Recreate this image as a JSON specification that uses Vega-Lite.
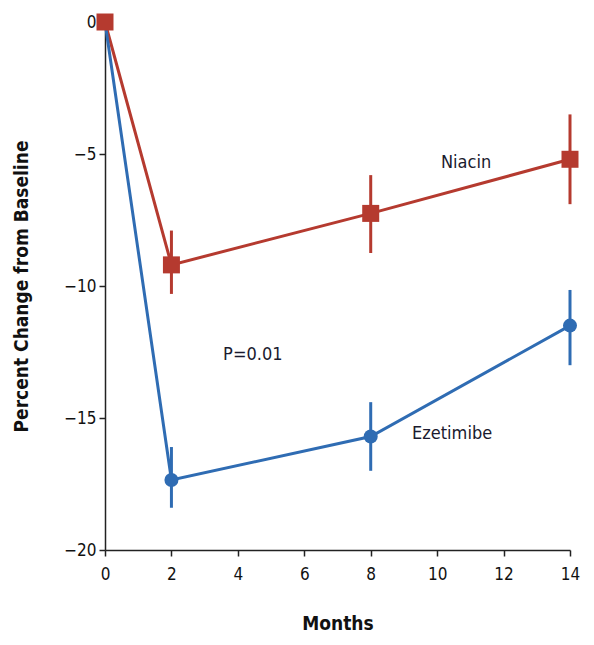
{
  "$schema": "https://vega.github.io/schema/vega-lite/v6.json",
  "width": 465,
  "height": 528,
  "autosize": {"type": "none"},
  "padding": {"left": 105, "top": 22, "right": 24, "bottom": 95},
  "background": "white",
  "config": {
    "view": {"stroke": null},
    "font": "DejaVu Sans Condensed, Liberation Sans, sans-serif",
    "axis": {
      "grid": false,
      "labelFlush": false,
      "domainColor": "#222222",
      "tickColor": "#222222",
      "domainWidth": 1.5,
      "tickWidth": 1.5,
      "tickSize": 6,
      "labelFont": "DejaVu Sans Condensed, Liberation Sans, sans-serif",
      "labelFontSize": 17,
      "labelColor": "#111111",
      "titleFont": "DejaVu Sans Condensed, Liberation Sans, sans-serif",
      "titleFontSize": 19,
      "titleFontWeight": "bold",
      "titleColor": "#111111"
    }
  },
  "data": {
    "values": [
      {"group": "Niacin", "month": 0, "value": 0, "lo": 0, "hi": 0},
      {"group": "Niacin", "month": 2, "value": -9.2, "lo": -10.3, "hi": -7.9},
      {"group": "Niacin", "month": 8, "value": -7.25, "lo": -8.75, "hi": -5.8},
      {"group": "Niacin", "month": 14, "value": -5.2, "lo": -6.9, "hi": -3.5},
      {"group": "Ezetimibe", "month": 0, "value": 0, "lo": 0, "hi": 0},
      {"group": "Ezetimibe", "month": 2, "value": -17.35, "lo": -18.4, "hi": -16.1},
      {"group": "Ezetimibe", "month": 8, "value": -15.7, "lo": -17.0, "hi": -14.4},
      {"group": "Ezetimibe", "month": 14, "value": -11.5, "lo": -13.0, "hi": -10.15}
    ]
  },
  "encoding": {
    "x": {
      "field": "month", "type": "quantitative",
      "scale": {"domain": [0, 14], "nice": false, "zero": false},
      "axis": {"values": [0, 2, 4, 6, 8, 10, 12, 14], "title": "Months", "titlePadding": 32, "labelPadding": 10}
    },
    "color": {
      "field": "group", "type": "nominal",
      "scale": {"domain": ["Niacin", "Ezetimibe"], "range": ["#b53a2f", "#2f6cb3"]},
      "legend": null
    }
  },
  "layer": [
    {
      "mark": {"type": "rule", "strokeWidth": 3},
      "encoding": {
        "y": {"field": "lo", "type": "quantitative"},
        "y2": {"field": "hi"}
      }
    },
    {
      "mark": {"type": "line", "strokeWidth": 3},
      "encoding": {
        "y": {
          "field": "value", "type": "quantitative",
          "scale": {"domain": [-20, 0], "nice": false},
          "axis": {"values": [-20, -15, -10, -5, 0], "title": "Percent Change from Baseline", "titlePadding": 32, "labelPadding": 3}
        }
      }
    },
    {
      "transform": [{"filter": "datum.group === 'Ezetimibe' && datum.month > 0"}],
      "mark": {"type": "point", "shape": "circle", "filled": true, "opacity": 1, "size": 196},
      "encoding": {"y": {"field": "value", "type": "quantitative"}}
    },
    {
      "transform": [{"filter": "datum.group === 'Niacin'"}],
      "mark": {"type": "point", "shape": "square", "filled": true, "opacity": 1, "size": 289},
      "encoding": {"y": {"field": "value", "type": "quantitative"}}
    },
    {
      "data": {"values": [
        {"label": "Niacin", "x": 10.87, "y": -5.35},
        {"label": "Ezetimibe", "x": 10.45, "y": -15.6},
        {"label": "P=0.01", "x": 4.45, "y": -12.6}
      ]},
      "mark": {"type": "text", "fontSize": 18, "font": "DejaVu Sans Condensed, Liberation Sans, sans-serif", "align": "center", "baseline": "middle"},
      "encoding": {
        "x": {"field": "x", "type": "quantitative"},
        "y": {"field": "y", "type": "quantitative"},
        "text": {"field": "label"},
        "color": {"value": "#1a1a2e"}
      }
    }
  ]
}
